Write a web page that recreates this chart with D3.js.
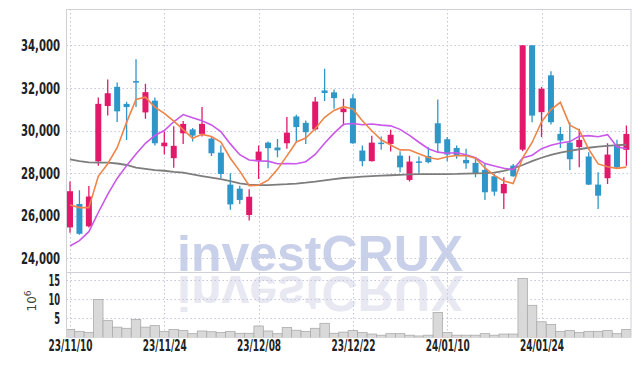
<!DOCTYPE html>
<html>
<head>
<meta charset="utf-8">
<script src="https://cdn.jsdelivr.net/npm/d3@7"></script>
<style>
  body { margin: 0; background: #fff; }
  svg { display: block; }
  .lbl { font-family: "DejaVu Sans Condensed", "DejaVu Sans", sans-serif; font-weight: bold; fill: #222; }
</style>
</head>
<body>
<div id="chart"></div>
<script>
// daily candles, 23/11/10 .. 24/02/05 (60 trading days)
var opens = [25450, 26550, 25500, 28550, 31150, 32050, 31250, 32320, 30850, 31400,
  29260, 28700, 29870, 30050, 29840, 29620, 28960, 27460, 27270, 26030,
  28560, 29430, 29200, 29400, 30660, 30360, 30050, 31880, 31790, 30860,
  31510, 29060, 28560, 29430, 29370, 28820, 27680, 28550, 28800, 30340,
  29590, 29180, 28620, 28480, 28150, 27850, 27050, 28350, 29100, 34000,
  30860, 32590, 29840, 29430, 29220, 28780, 27460, 27760, 29290, 29090];
var highs = [27600, 27200, 27400, 31550, 32400, 32250, 31350, 33350, 32200, 31550,
  29950, 30200, 30450, 30120, 31100, 29680, 29290, 27990, 27410, 27240,
  29290, 29480, 29600, 30630, 30740, 30470, 31570, 32900, 31930, 31490,
  31700, 29290, 29750, 29720, 30030, 29030, 28820, 28780, 29210, 31460,
  29690, 29300, 29140, 28670, 28430, 27960, 27800, 28430, 34000, 34000,
  32040, 32780, 30160, 30390, 30080, 28980, 28040, 29400, 29560, 30230];
var lows = [25200, 25100, 25450, 28350, 30700, 30400, 29550, 31100, 30550, 29300,
  28870, 28250, 29370, 29480, 29720, 28800, 27770, 26280, 26550, 25770,
  27720, 28230, 28740, 29140, 29450, 29370, 30000, 31380, 31020, 30230,
  29380, 28320, 28540, 29100, 29010, 28040, 27610, 27990, 28460, 28980,
  28560, 28670, 28200, 27800, 26740, 26940, 26310, 27830, 29030, 30390,
  29690, 30280, 29180, 28150, 28270, 27440, 26310, 27490, 28200, 28350];
var closes = [27150, 25150, 26900, 31250, 31750, 30900, 31100, 32280, 31800, 29400,
  29430, 29280, 30310, 29760, 30310, 28930, 27960, 26530, 26740, 26890,
  29010, 29170, 29070, 29900, 30160, 29920, 31360, 31760, 31520, 31030,
  29400, 28560, 29430, 29400, 29800, 28270, 28540, 28530, 28510, 29400,
  28870, 28820, 28460, 27960, 27100, 27130, 27490, 27850, 34000, 30700,
  31960, 30390, 29530, 28650, 29560, 27460, 26940, 28870, 28270, 29840];
// volume in millions of shares
var volumes = [2.1, 1.6, 1.3, 9.9, 4.4, 2.7, 2.4, 4.7, 2.7, 3.1,
  1.6, 2.1, 1.8, 1.0, 1.7, 1.5, 1.3, 1.6, 1.1, 1.1,
  3.0, 1.7, 1.0, 2.6, 1.9, 1.6, 2.4, 3.7, 1.1, 1.4,
  1.8, 1.3, 0.9, 0.6, 1.0, 1.0, 0.6, 0.4, 0.6, 6.5,
  1.3, 0.6, 0.6, 0.6, 1.0, 0.6, 0.9, 0.9, 15.4, 8.4,
  4.1, 3.4, 1.6, 1.8, 1.3, 1.6, 1.6, 1.8, 1.0, 2.1];
// moving averages as drawn
var ma5 = [26500, 26380, 26380, 27850, 28440, 29190, 30380, 31456, 31566, 31096,
  30802, 30438, 30044, 29636, 29818, 29718, 29454, 28698, 28094, 27410,
  27426, 27668, 28176, 28808, 29462, 29644, 30082, 30620, 30944, 31118,
  31014, 30454, 29988, 29564, 29318, 29092, 29088, 28908, 28730, 28650,
  28770, 28826, 28812, 28702, 28242, 27894, 27632, 27510, 28718, 29438,
  30404, 30984, 31320, 30250, 30022, 29122, 28432, 28300, 28224, 28280];
var ma10 = [24580, 24830, 25250, 26150, 27000, 27750, 28350, 28900, 29400, 29768,
  29996, 30409, 30750, 30601, 30457, 30260, 29946, 29371, 28865, 28614,
  28572, 28561, 28437, 28451, 28436, 28535, 28875, 29398, 29876, 30290,
  30329, 30268, 30304, 30254, 30218, 30053, 29771, 29448, 29147, 28984,
  28931, 28957, 28860, 28716, 28446, 28332, 28227, 28159, 28708, 28838,
  29147, 29304, 29411, 29480, 29726, 29759, 29704, 29806, 29233, 29147];
var maLong = [28640, 28560, 28500, 28490, 28490, 28450, 28380, 28260, 28200, 28140,
  28110, 28060, 28020, 27940, 27860, 27790, 27720, 27620, 27520, 27460,
  27440, 27440, 27460, 27480, 27510, 27550, 27600, 27660, 27720, 27770,
  27800, 27830, 27860, 27880, 27900, 27920, 27940, 27950, 27950, 27950,
  27950, 27960, 27980, 27990, 28000, 28020, 28100, 28220, 28380, 28560,
  28720, 28860, 28960, 29040, 29120, 29190, 29240, 29280, 29310, 29330];

var tickIndex = [0, 10, 20, 30, 40, 50];
var tickLabels = ["23/11/10", "23/11/24", "23/12/08", "23/12/22", "24/01/10", "24/01/24"];
var priceTicks = [24000, 26000, 28000, 30000, 32000, 34000];
var volTicks = [5, 10, 15];

// layout (window.top is read-only, so use other names)
var width = 639, height = 366;
var plotLeft = 66.5, plotRight = 631, plotTop = 9, split = 272.5, plotBottom = 337.5;

var svg = d3.select("#chart").append("svg")
  .attr("width", width)
  .attr("height", height);

var x = d3.scaleLinear().domain([0, 59]).range([70, 626.4]);
var y = d3.scaleLinear().domain([24000, 34000]).range([258.3, 45.3]);
var yVol = d3.scaleLinear().domain([0, 15]).range([plotBottom, 280]);
var step = x(1) - x(0);

var defs = svg.append("defs");
defs.append("clipPath").attr("id", "clipPrice")
  .append("rect").attr("x", plotLeft).attr("y", plotTop)
  .attr("width", plotRight - plotLeft).attr("height", split - plotTop);
defs.append("clipPath").attr("id", "clipVol")
  .append("rect").attr("x", plotLeft).attr("y", split)
  .attr("width", plotRight - plotLeft).attr("height", plotBottom - split);

// watermark + reflection
var wm = svg.append("g")
  .style("font-family", "'Liberation Sans', Arial, sans-serif")
  .style("font-weight", "bold")
  .style("font-size", "50px");
wm.append("text")
  .attr("x", 177).attr("y", 271)
  .attr("fill", "#c9d0e9")
  .text("investCRUX");
wm.append("text")
  .attr("x", 177).attr("y", 271)
  .attr("transform", "translate(0," + (2 * 273.5) + ") scale(1,-1)")
  .attr("fill", "#e8e8f2")
  .text("investCRUX");

// grid
var grid = svg.append("g")
  .attr("stroke", "#c6c6da")
  .attr("stroke-width", 1)
  .attr("stroke-dasharray", "1.5,2.5");
grid.selectAll(".hp").data(priceTicks).enter().append("line")
  .attr("x1", plotLeft).attr("x2", plotRight)
  .attr("y1", function (d) { return Math.round(y(d)) + 0.5; })
  .attr("y2", function (d) { return Math.round(y(d)) + 0.5; });
grid.selectAll(".hv").data(volTicks).enter().append("line")
  .attr("x1", plotLeft).attr("x2", plotRight)
  .attr("y1", function (d) { return Math.round(yVol(d)) + 0.5; })
  .attr("y2", function (d) { return Math.round(yVol(d)) + 0.5; });
grid.selectAll(".vx").data(tickIndex).enter().append("line")
  .attr("x1", function (d) { return Math.round(x(d)) + 0.5; })
  .attr("x2", function (d) { return Math.round(x(d)) + 0.5; })
  .attr("y1", plotTop).attr("y2", plotBottom);

// volume bars
svg.append("g")
  .attr("clip-path", "url(#clipVol)")
  .selectAll("rect")
  .data(volumes)
  .enter()
  .append("rect")
  .attr("x", function (d, i) { return x(i) - step / 2; })
  .attr("y", function (d) { return yVol(d); })
  .attr("width", step)
  .attr("height", function (d) { return plotBottom - yVol(d); })
  .attr("fill", "#d9d9d9")
  .attr("stroke", "#ababab")
  .attr("stroke-width", 0.8);

// candles (red = close above open)
var up = "#e2186b", down = "#2f96c8";
var candles = svg.append("g").attr("clip-path", "url(#clipPrice)")
  .selectAll("g")
  .data(closes)
  .enter()
  .append("g");
candles.append("line")
  .attr("x1", function (d, i) { return x(i); })
  .attr("x2", function (d, i) { return x(i); })
  .attr("y1", function (d, i) { return y(highs[i]); })
  .attr("y2", function (d, i) { return y(lows[i]); })
  .attr("stroke", function (d, i) { return d >= opens[i] ? up : down; })
  .attr("stroke-width", 1.3);
candles.append("rect")
  .attr("x", function (d, i) { return x(i) - 3; })
  .attr("width", 6)
  .attr("y", function (d, i) { return y(Math.max(d, opens[i])); })
  .attr("height", function (d, i) { return Math.max(1.5, Math.abs(y(d) - y(opens[i]))); })
  .attr("fill", function (d, i) { return d >= opens[i] ? up : down; });

// moving averages
var line = d3.line()
  .x(function (d, i) { return x(i); })
  .y(function (d) { return y(d); });
var lines = svg.append("g").attr("clip-path", "url(#clipPrice)").attr("fill", "none");
lines.append("path").attr("d", line(maLong)).attr("stroke", "#7d7d7d").attr("stroke-width", 1.8);
lines.append("path").attr("d", line(ma10)).attr("stroke", "#c957ea").attr("stroke-width", 1.6);
lines.append("path").attr("d", line(ma5)).attr("stroke", "#ee8448").attr("stroke-width", 1.6);

// frame
var frame = svg.append("g").attr("stroke", "#d0d0d8").attr("stroke-width", 1).attr("fill", "none");
frame.append("line").attr("x1", plotLeft).attr("x2", plotRight).attr("y1", plotTop + 0.5).attr("y2", plotTop + 0.5);
frame.append("line").attr("x1", plotLeft).attr("x2", plotRight).attr("y1", split).attr("y2", split);
frame.append("line").attr("x1", plotLeft).attr("x2", plotLeft).attr("y1", plotTop).attr("y2", plotBottom);
frame.append("line").attr("x1", plotRight).attr("x2", plotRight).attr("y1", plotTop).attr("y2", plotBottom);

// axes
var yAxis = svg.append("g")
  .attr("transform", "translate(60,0)")
  .call(d3.axisLeft(y).tickValues(priceTicks).tickFormat(d3.format(",")).tickSize(0).tickPadding(0));
var vAxis = svg.append("g")
  .attr("transform", "translate(60,0)")
  .call(d3.axisLeft(yVol).tickValues(volTicks).tickSize(0).tickPadding(0));
var xAxis = svg.append("g")
  .attr("transform", "translate(0,339)")
  .call(d3.axisBottom(x).tickValues(tickIndex)
    .tickFormat(function (d) { return tickLabels[tickIndex.indexOf(d)]; })
    .tickSize(0).tickPadding(1));
[yAxis, vAxis, xAxis].forEach(function (a) {
  a.select(".domain").remove();
  a.selectAll("text").attr("class", "lbl").style("font-size", "16px").attr("fill", "#222");
});
// the reference font is much narrower: squeeze the glyphs
yAxis.selectAll("text").attr("textLength", 39).attr("lengthAdjust", "spacingAndGlyphs");
vAxis.selectAll("text").attr("textLength", function (d) { return String(d).length * 5.8; })
  .attr("lengthAdjust", "spacingAndGlyphs");
xAxis.selectAll("text").attr("textLength", 44).attr("lengthAdjust", "spacingAndGlyphs");

// unit label
var unit = svg.append("text")
  .attr("transform", "translate(36,301) rotate(-90)")
  .attr("text-anchor", "middle")
  .style("font-family", "'DejaVu Sans', sans-serif")
  .style("font-size", "12px")
  .attr("fill", "#444");
unit.append("tspan").text("10");
unit.append("tspan").attr("dy", -5).style("font-size", "9px").text("6");
</script>
</body>
</html>
